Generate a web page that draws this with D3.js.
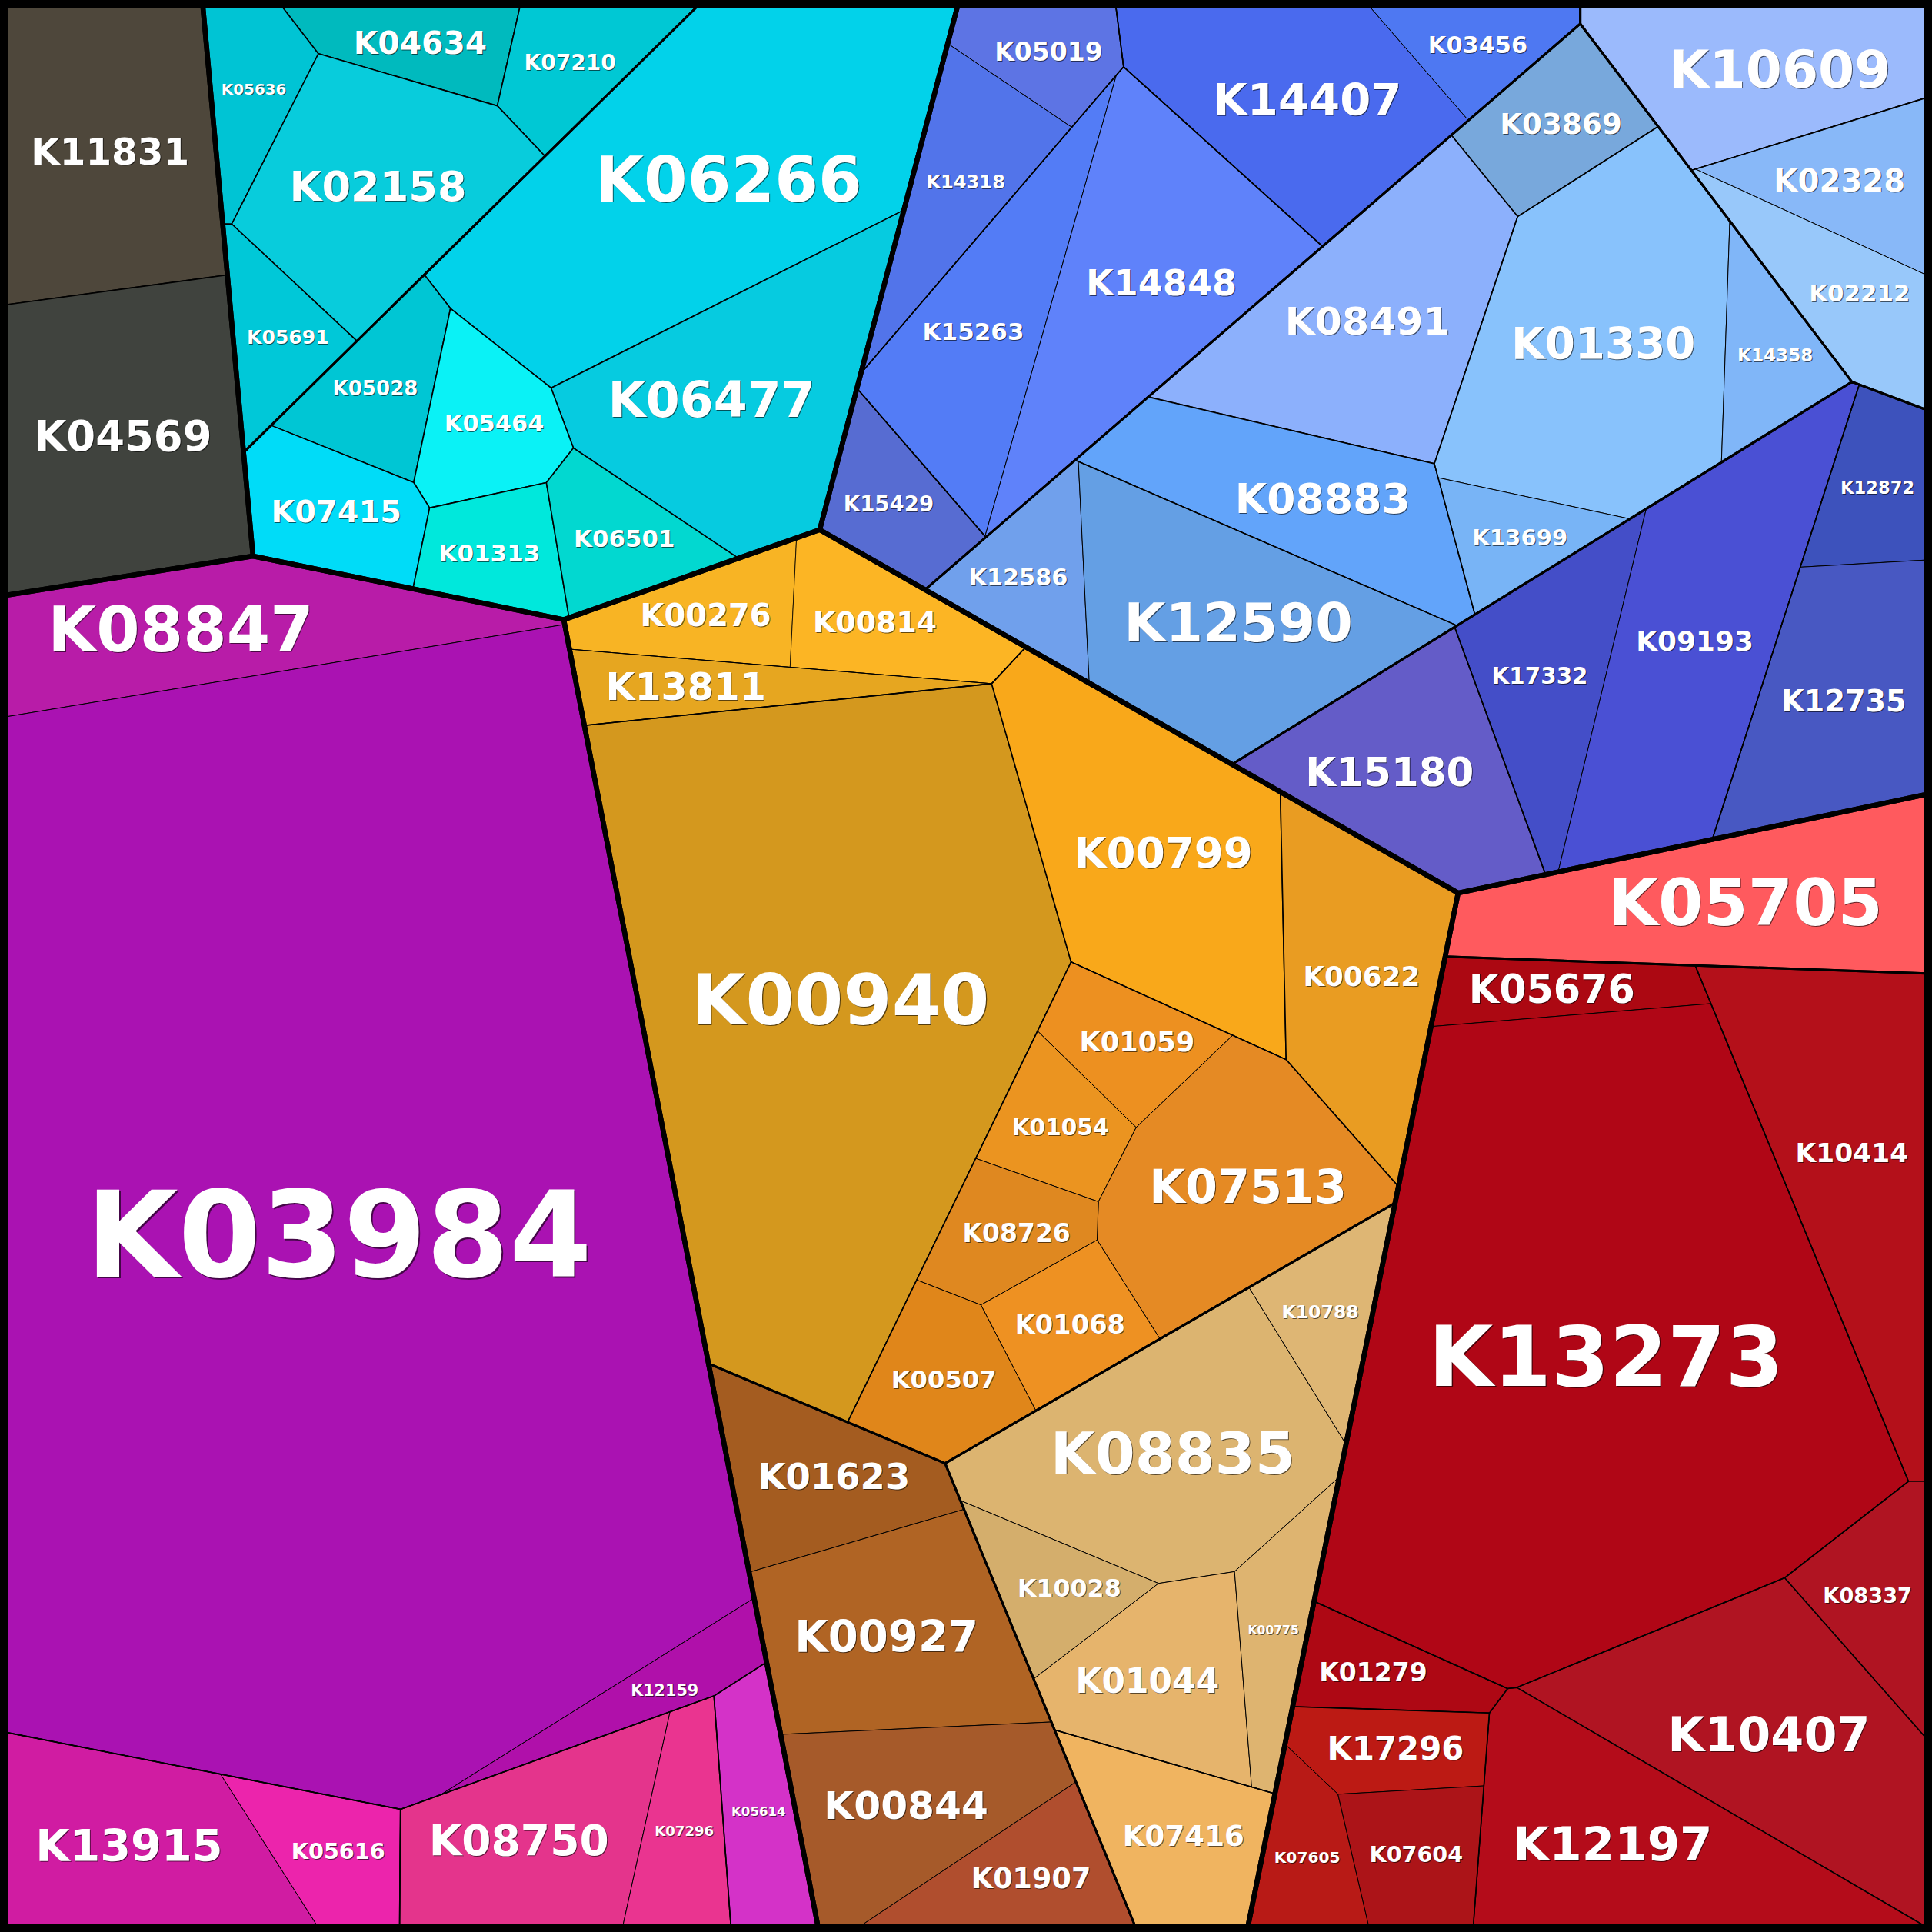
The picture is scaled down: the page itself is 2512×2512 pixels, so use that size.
<!DOCTYPE html>
<html><head><meta charset="utf-8">
<script src="https://cdn.jsdelivr.net/npm/d3@7"></script>
<style>html,body{margin:0;padding:0;background:#000}</style>
</head><body>
<script>
// ---------- data ----------
const names = [
"K11831","K04569",
"K05636","K04634","K07210","K02158","K05691",
"K06266","K06477","K05028","K05464","K07415","K01313","K06501",
"K05019","K14318","K15263","K14848","K14407","K03456","K15429",
"K10609","K02328","K02212",
"K03869","K08491","K08883","K01330","K14358","K13699","K12586","K12590",
"K17332","K09193","K12872","K12735","K15180",
"K08847","K03984","K12159","K13915","K05616","K08750","K07296","K05614",
"K00276","K00814","K13811","K00940","K00799","K00622","K01059","K01054","K07513","K08726","K01068","K00507",
"K01623","K00927","K00844","K01907",
"K08835","K10788","K10028","K01044","K00775","K07416",
"K05705","K05676","K13273","K10414","K08337","K10407","K12197","K01279","K17296","K07605","K07604"];

const groupPaths = [
"gray/_","gray/_",
"cyan/C1","cyan/C1","cyan/C1","cyan/C1","cyan/C1",
"cyan/C2","cyan/C2","cyan/C2","cyan/C2","cyan/C2","cyan/C2","cyan/C2",
"blue/B1/a","blue/B1/a","blue/B1/b","blue/B1/b","blue/B1/c","blue/B1/c","blue/B1",
"blue/B2","blue/B2/a","blue/B2/a",
"blue/B3","blue/B3","blue/B3","blue/B3/a","blue/B3/a","blue/B3/a","blue/B3/b","blue/B3/b",
"blue/B4/a","blue/B4/a","blue/B4/c","blue/B4/c","blue/B4",
"purple/_/P1","purple/_/P1","purple/_/P1","purple/_/P2","purple/_/P2","purple/_/P3","purple/_/P3","purple/_",
"warm/O/O1/a","warm/O/O1/a","warm/O/O1","warm/O","warm/O","warm/O","warm/O/O4","warm/O/O4","warm/O/O4","warm/O/O4","warm/O/O4","warm/O/O4",
"warm/N/_","warm/N/_","warm/N/_","warm/N/_",
"warm/T/Z","warm/T/Z","warm/T/Z","warm/T/Z","warm/T/Z","warm/T",
"red/R1","red/R2/a","red/R2/a","red/R2","red/R2","red/R2","red/R2","red/R2","red/R2/b","red/R2/b","red/R2/b"];

const values = [
391,442,
97,100,107,325,96,
748,408,118,127,136,98,108,
93,158,266,397,331,86,108,
264,134,143,
129,388,276,526,101,81,118,394,
205,437,107,275,272,
323,4707,87,292,110,260,110,117,
118,140,104,1558,469,287,105,96,340,103,107,132,
185,313,254,130,
440,102,96,196,105,174,
376,94,1819,415,125,445,372,89,98,90,112];

// ---------- styles ----------
const colors = [
"#4e473b","#40433e",
"#00c4d4","#00babe","#00c8d4","#08ccdc","#00c8d8",
"#02d2ea","#06cbe0","#00c6d4","#0af2f6","#00dcf8","#00e8dc","#02d8d0",
"#5d74e4","#5274ea","#537cf6","#5f82fa","#4a6aee","#4e78f2","#576cd2",
"#9bbafc","#88b8f8","#98c8fa",
"#78a8dc","#8cb0fc","#62a4fa","#88c2fc","#80b6f8","#78b4f6","#70a0ec","#649fe4",
"#444ec8","#4a50d4","#3d52bc","#4858c2","#645cc8",
"#b81ca8","#aa12b2","#b010aa","#d01ca2","#ec24ac","#e4348c","#ea3490","#d432c8",
"#f8b424","#fcb524","#e6a620","#d4981e","#f9a81a","#e99c22","#ed9020","#eb9420","#e58a24","#df8820","#ee9122","#e0861a",
"#a45c20","#b06424","#a65a2a","#b04e2e",
"#dcb470","#deb674","#d4ae6c","#e6b46c","#deb470","#f0b460",
"#ff5a5e","#ac0812","#b00616","#b4101a","#b01422","#b01422","#b40c1a","#ae0814","#bc1a14","#b81a16","#ac1418"];

// ---------- layout hints: generator sites of the weighted Voronoi cells (reference units 0..1568) ----------
const siteHints = {
 "gray":[146,197], "cyan":[475,167], "blue":[1136,341], "purple":[287,1086], "warm":[765,993], "red":[1296,1101],
 "cyan/C1":[290,130], "cyan/C2":[465,308],
 "blue/B1":[948,143], "blue/B2":[1428,143], "blue/B3":[1138,363], "blue/B4":[1267,572],
 "blue/B1/a":[790,100], "blue/B1/b":[926.7,217.1], "blue/B1/c":[1064,65], "K15429":[734,384],
 "K10609":[1430,50], "blue/B2/a":[1489,241],
 "K03869":[1240.6,119.6], "K08491":[1108.7,226.9], "blue/B3/a":[1364.7,313.2], "K08883":[1070.1,392.4], "blue/B3/b":[1022.4,502.5],
 "blue/B4/a":[1340,510], "K15180":[1161.7,575.5], "blue/B4/c":[1492.2,559.2],
 "purple/_/P1":[262.4,935], "purple/_/P2":[154.7,1487.7], "purple/_/P3":[463,1490], "K05614":[611.3,1479.1],
 "warm/O":[826.7,825.2], "warm/N":[585.5,1397.4], "warm/T":[1048,1207.5],
 "warm/O/O1":[663.9,499.3], "K00940":[698.6,837.6], "K00799":[949.8,765.9], "K00622":[1060,763.5], "warm/O/O4":[877.8,924.6],
 "warm/O/O1/a":[645.7,497.7], "K13811":[640,567.5],
 "warm/T/Z":[953,1238], "K07416":[883.5,1478],
 "red/R1":[1390,728], "red/R2":[1376,1128],
 "red/R2/a":[1287,1043], "K10414":[1495,957], "K08337":[1495,1310], "K10407":[1422.5,1374], "K12197":[1343,1510], "K01279":[1143.7,1360.7], "red/R2/b":[1139.4,1494.6],
 "K11831":[90,122], "K04569":[120.6,350],
 "K05636":[198,116], "K04634":[364,-12], "K07210":[478,14], "K02158":[310,173], "K05691":[195,296],
 "K06266":[552.7,150.7], "K06477":[612.6,269.5], "K05028":[316.1,334], "K05464":[394.6,350.6], "K07415":[281.1,421.5], "K01313":[416,449.3], "K06501":[502.3,434.8],
 "K05019":[850,50], "K14318":[794,133], "K15263":[790,250], "K14848":[934,291], "K14407":[1044,85], "K03456":[1180,-33],
 "K02328":[1500,140], "K02212":[1450,249],
 "K01330":[1300,270], "K14358":[1430,274.5], "K13699":[1268.5,416.7],
 "K12586":[846,467], "K12590":[996,459.6],
 "K17332":[1250,530], "K09193":[1386,563], "K12872":[1520,390], "K12735":[1529,550],
 "K08847":[202.6,557], "K03984":[276,1001], "K12159":[515,1382],
 "K13915":[105,1495], "K05616":[256.8,1398.2], "K08750":[424,1495], "K07296":[551,1523],
 "K00276":[555,495], "K00814":[725,503.5],
 "K01059":[898.1,851.5], "K01054":[854.8,895.8], "K07513":[1021,980.3], "K08726":[827.2,973.9], "K01068":[880.6,1069.5], "K00507":[766.9,1128.6],
 "K01623":[685.5,1200.3], "K00927":[722,1325], "K00844":[728.4,1464.8], "K01907":[784,1548],
 "K08835":[904.5,1189], "K10788":[1053.3,1096.9], "K10028":[867.2,1278.2], "K01044":[931.3,1362], "K00775":[1052.2,1352.4],
 "K05705":[1390,728], "K05676":[1275,797], "K13273":[1299.5,1096],
 "K17296":[1130,1415], "K07605":[1044,1506], "K07604":[1134,1485]
};

// ---------- power-diagram (weighted Voronoi) treemap ----------
const W = 2512;
const ref = d3.scaleLinear().domain([0, 1568]).range([0, W]);
const inset = 7.5;
const square = [[inset, inset], [W - inset, inset], [W - inset, W - inset], [inset, W - inset]];

function clipHalf(poly, a, b, c, lab) {
  const out = [], n = poly.length;
  for (let k = 0; k < n; k++) {
    const P = poly[k], Q = poly[(k + 1) % n];
    const fp = a * P.x + b * P.y - c, fq = a * Q.x + b * Q.y - c;
    const pin = fp <= 0, qin = fq <= 0;
    if (pin) out.push(P);
    if (pin !== qin) {
      const t = fp / (fp - fq);
      out.push({x: P.x + t * (Q.x - P.x), y: P.y + t * (Q.y - P.y), lab: pin ? lab : P.lab});
    }
  }
  return out;
}
function powerCells(sites, w, clip) {
  return sites.map((pi, i) => {
    let poly = clip.map(p => ({x: p[0], y: p[1], lab: -1}));
    for (let j = 0; j < sites.length && poly.length > 2; j++) {
      if (j === i) continue;
      const pj = sites[j];
      const a = 2 * (pj[0] - pi[0]), b = 2 * (pj[1] - pi[1]);
      const c = pj[0] * pj[0] + pj[1] * pj[1] - pi[0] * pi[0] - pi[1] * pi[1] - w[j] + w[i];
      poly = clipHalf(poly, a, b, c, j);
    }
    return poly.length > 2 ? poly : [];
  });
}
function cellArea(poly) {
  let s = 0;
  for (let k = 0; k < poly.length; k++) {
    const P = poly[k], Q = poly[(k + 1) % poly.length];
    s += P.x * Q.y - Q.x * P.y;
  }
  return Math.abs(s) / 2;
}
function solve(sites, targets, clip) {
  const n = sites.length;
  if (n === 1) return [clip];
  const w = new Array(n).fill(0);
  let cells = powerCells(sites, w, clip);
  for (let it = 0; it < 4000; it++) {
    let maxErr = 0;
    const dw = new Array(n).fill(0);
    for (let i = 0; i < n; i++) {
      const poly = cells[i];
      const A = cellArea(poly);
      const err = targets[i] - A;
      maxErr = Math.max(maxErr, Math.abs(err) / targets[i]);
      let D = 0;
      for (let k = 0; k < poly.length; k++) {
        const P = poly[k], Q = poly[(k + 1) % poly.length];
        if (P.lab >= 0) {
          const s = sites[P.lab];
          D += Math.hypot(Q.x - P.x, Q.y - P.y) / (2 * Math.hypot(s[0] - sites[i][0], s[1] - sites[i][1]));
        }
      }
      let step = D > 1e-9 ? 0.5 * err / D : (err > 0 ? 0.3 : -0.3) * targets[i];
      step = Math.max(-0.5 * targets[i], Math.min(0.5 * targets[i], step));
      dw[i] = step;
    }
    if (maxErr < 0.0005) break;
    for (let i = 0; i < n; i++) w[i] += dw[i];
    cells = powerCells(sites, w, clip);
  }
  return cells.map(p => p.map(q => [q.x, q.y]));
}

// ---------- hierarchy ----------
const nodes = new Map();
nodes.set("root", {id: "root", parent: null});
names.forEach((nm, i) => {
  let pid = "root";
  groupPaths[i].split("/").forEach(part => {
    const id = pid + "/" + part;
    if (!nodes.has(id)) nodes.set(id, {id, parent: pid});
    pid = id;
  });
  const id = pid + "/" + nm;
  nodes.set(id, {id, parent: pid, leaf: {name: nm, value: values[i], color: colors[i]}});
});
const root = d3.stratify().id(d => d.id).parentId(d => d.parent)([...nodes.values()]);
root.sum(d => d.leaf ? d.leaf.value : 0);

function hintOf(node) {
  const key = node.data.leaf ? node.data.leaf.name : node.id.replace(/^root\//, "");
  return siteHints[key];
}
root.polygon = square;
root.eachBefore(node => {
  if (!node.children) return;
  const kids = node.children;
  if (kids.length === 1) { kids[0].polygon = node.polygon; return; }
  const total = Math.abs(d3.polygonArea(node.polygon));
  const sites = kids.map(k => { const h = hintOf(k); return [ref(h[0]), ref(h[1])]; });
  const cells = solve(sites, kids.map(k => total * k.value / node.value), node.polygon);
  kids.forEach((k, i) => k.polygon = cells[i]);
});

// ---------- draw ----------
const svg = d3.select("body").append("svg").attr("width", W).attr("height", W)
  .style("display", "block");
svg.append("rect").attr("width", W).attr("height", W).attr("fill", "#000");

const leaves = root.leaves().filter(d => d.polygon && d.polygon.length > 2);
const pathOf = p => "M" + p.map(q => q[0].toFixed(2) + "," + q[1].toFixed(2)).join("L") + "Z";
const leafWidth = d => d.depth >= 5 ? 0.8 : d.depth === 4 ? 1.0 : 1.6;

svg.append("g").selectAll("path").data(leaves).join("path")
  .attr("d", d => pathOf(d.polygon))
  .attr("fill", d => d.data.leaf.color)
  .attr("stroke", "#000")
  .attr("stroke-linejoin", "round")
  .attr("stroke-width", leafWidth);

const groupWidth = {4: 1.0, 3: 1.6, 2: 3.0, 1: 6.5};
[4, 3, 2, 1].forEach(dep => {
  const gs = root.descendants().filter(d => d.children && d.depth === dep && d.polygon && d.polygon.length > 2);
  svg.append("g").selectAll("path").data(gs).join("path")
    .attr("d", d => pathOf(d.polygon))
    .attr("fill", "none")
    .attr("stroke", "#000")
    .attr("stroke-linejoin", "round")
    .attr("stroke-width", groupWidth[dep]);
});

// ---------- labels ----------
const HW = 4.26 / 2, HH = 0.73 / 2;  // half box of a 6-character bold label, in em
function boxFitter(poly) {
  const [gx, gy] = d3.polygonCentroid(poly);
  const edges = [];
  for (let k = 0; k < poly.length; k++) {
    const P = poly[k], Q = poly[(k + 1) % poly.length];
    const L = Math.hypot(Q[0] - P[0], Q[1] - P[1]);
    if (L < 1e-6) continue;
    let nx = -(Q[1] - P[1]) / L, ny = (Q[0] - P[0]) / L;
    if (nx * (gx - P[0]) + ny * (gy - P[1]) < 0) { nx = -nx; ny = -ny; }
    edges.push([P[0], P[1], nx, ny, Math.abs(nx) * HW + Math.abs(ny) * HH]);
  }
  return (cx, cy) => {
    let m = Infinity;
    for (const [px, py, nx, ny, den] of edges) {
      const s = nx * (cx - px) + ny * (cy - py);
      if (s <= 0) return 0;
      m = Math.min(m, s / den);
    }
    return m;
  };
}
function globalBest(poly, fit) {
  const xs = poly.map(p => p[0]), ys = poly.map(p => p[1]);
  const x0 = d3.min(xs), x1 = d3.max(xs), y0 = d3.min(ys), y1 = d3.max(ys);
  let best = d3.polygonCentroid(poly), bestV = fit(best[0], best[1]);
  let N = 40, sx = (x1 - x0) / N, sy = (y1 - y0) / N;
  for (let i = 0; i <= N; i++) for (let j = 0; j <= N; j++) {
    const x = x0 + i * sx, y = y0 + j * sy, v = fit(x, y);
    if (v > bestV) { bestV = v; best = [x, y]; }
  }
  for (let r = 0; r < 5; r++) {
    const cx = best[0], cy = best[1];
    for (let i = -6; i <= 6; i++) for (let j = -6; j <= 6; j++) {
      const x = cx + i * sx / 6, y = cy + j * sy / 6, v = fit(x, y);
      if (v > bestV) { bestV = v; best = [x, y]; }
    }
    sx /= 4; sy /= 4;
  }
  return {x: best[0], y: best[1], em: bestV};
}
function labelSpot(poly) {
  const fit = boxFitter(poly);
  const [gx, gy] = d3.polygonCentroid(poly);
  const xs = poly.map(p => p[0]);
  const x0 = d3.min(xs), x1 = d3.max(xs);
  let bx = gx, bv = fit(gx, gy);
  const N = 200;
  for (let i = 0; i <= N; i++) {
    const x = x0 + (x1 - x0) * i / N, v = fit(x, gy);
    if (v > bv) { bv = v; bx = x; }
  }
  let step = (x1 - x0) / N;
  for (let r = 0; r < 4; r++) {
    const c = bx;
    for (let i = -5; i <= 5; i++) { const x = c + i * step / 5, v = fit(x, gy); if (v > bv) { bv = v; bx = x; } }
    step /= 5;
  }
  const g = globalBest(poly, fit);
  if (bv < 0.6 * g.em) return g;
  return {x: bx, y: gy, em: bv};
}
const lab = svg.append("g").attr("font-family", "'DejaVu Sans', sans-serif").attr("font-weight", "bold")
  .attr("text-anchor", "middle");
leaves.forEach(d => {
  const b = labelSpot(d.polygon);
  const em = 0.76 * b.em;
  const off = Math.max(1, em * 0.012);
  lab.append("text").attr("x", b.x + off).attr("y", b.y + 0.365 * em + off)
    .attr("font-size", em.toFixed(1)).attr("fill", "#000").attr("fill-opacity", 0.6).text(d.data.leaf.name);
  lab.append("text").attr("x", b.x).attr("y", b.y + 0.365 * em)
    .attr("font-size", em.toFixed(1)).attr("fill", "#fff").text(d.data.leaf.name);
});
</script>
</body></html>
